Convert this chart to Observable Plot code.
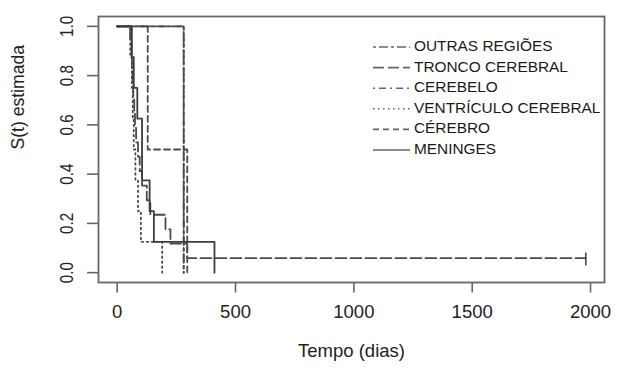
<!DOCTYPE html>
<html><head><meta charset="utf-8">
<script src="https://cdn.jsdelivr.net/npm/d3@7"></script>
<script src="https://cdn.jsdelivr.net/npm/@observablehq/plot@0.6"></script>
<style>body{margin:0;background:#fff} svg{display:block}</style>
</head><body><div id="chart"></div>
<script>
// Kaplan-Meier curves: time (days) and estimated S(t)
const groups = ["OUTRAS REGIÕES","TRONCO CEREBRAL","CEREBELO","VENTRÍCULO CEREBRAL","CÉREBRO","MENINGES"];
const outrasT   = [0, 281];
const outrasS   = [1, 0];
const troncoT   = [0, 55, 60, 62, 65, 68, 72, 75, 80, 88, 95, 105, 125, 140, 204, 225, 296, 1980];
const troncoS   = [1, 0.941, 0.882, 0.824, 0.765, 0.706, 0.647, 0.588, 0.529, 0.471, 0.412, 0.353, 0.294, 0.235, 0.176, 0.118, 0.059, 0.059];
const cerebeloT = [0, 281];
const cerebeloS = [1, 0];
const ventrT    = [0, 55, 62, 66, 70, 77, 88, 100, 190];
const ventrS    = [1, 0.875, 0.75, 0.625, 0.5, 0.375, 0.25, 0.125, 0];
const cerebroT  = [0, 129, 296];
const cerebroS  = [1, 0.5, 0];
const meningesT = [0, 62, 70, 85, 105, 137, 155, 411];
const meningesS = [1, 0.875, 0.75, 0.625, 0.375, 0.25, 0.125, 0];
const censorT = [1980];
const censorS = [0.059];
const xTicks = [0, 500, 1000, 1500, 2000];
const yTicks = [0, 0.2, 0.4, 0.6, 0.8, 1.0];
const xTitle = "Tempo (dias)";
const yTitle = "S(t) estimada";

const dashes = ["3,3,9,3", "11,4", "2,4,7,4", "1.5,3.5", "6,4", null];
const times = [outrasT, troncoT, cerebeloT, ventrT, cerebroT, meningesT];
const survs = [outrasS, troncoS, cerebeloS, ventrS, cerebroS, meningesS];
const series = groups.map((g, i) => ({
  name: g, dash: dashes[i],
  data: times[i].map((t, j) => ({t, s: survs[i][j]}))
}));
const censor = censorT.map((t, i) => ({t, s: censorS[i]}));

const lineColor = "#4a4a4a";

function legendMark(index, scales, values, dims) {
  const g = d3.create("svg:g").attr("text-anchor", "start");
  const x0 = dims.width - dims.marginRight - 231;
  const top = dims.marginTop + 30;
  const step = 20.6;
  series.forEach((s, i) => {
    const y = top + i * step;
    const ln = g.append("line")
      .attr("x1", x0).attr("x2", x0 + 37).attr("y1", y + 1).attr("y2", y + 1)
      .attr("stroke", "#666").attr("stroke-width", 1.6);
    if (s.dash) ln.attr("stroke-dasharray", s.dash);
    g.append("text")
      .attr("transform", `translate(${x0 + 41},${y}) scale(1.1,1)`)
      .attr("text-anchor", "start")
      .attr("dy", "0.36em").attr("font-size", 14).attr("fill", "#1a1a1a")
      .text(s.name);
  });
  return g.node();
}

const chart = Plot.plot({
  width: 622, height: 368,
  marginLeft: 98, marginRight: 18, marginTop: 16, marginBottom: 86,
  x: {domain: [-79, 2059]},
  y: {domain: [-0.04, 1.04]},
  style: {fontFamily: "'Liberation Sans', Arial, sans-serif", background: "#fff", color: "#222"},
  marks: [
    Plot.frame({stroke: "#666", strokeWidth: 1.8}),
    ...series.map((s, i) => Plot.line(s.data, {
      x: "t", y: "s", curve: "step-after", stroke: i === 5 ? "#3c3c3c" : lineColor,
      strokeWidth: 1.8, strokeDasharray: s.dash || undefined
    })),
    Plot.ruleX(censor, {x: "t", y1: "s", y2: "s", insetTop: -5, insetBottom: -8, stroke: lineColor, strokeWidth: 1.6}),
    Plot.axisX({ticks: xTicks, tickSize: 10.5, tickPadding: 12, tickFormat: d => String(d), fontSize: 18.5, label: null, stroke: "#666", strokeWidth: 1.6}),
    Plot.axisY({ticks: yTicks, tickSize: 11, tickPadding: 15, tickRotate: -90, tickFormat: d3.format(".1f"), fontSize: 18.5, label: null, stroke: "#666", strokeWidth: 1.6}),
    Plot.text([xTitle], {frameAnchor: "bottom", dy: 74, fontSize: 18.5, fill: "#222"}),
    Plot.text([yTitle], {frameAnchor: "left", dx: -80, rotate: -90, fontSize: 18.5, fill: "#222"}),
    legendMark
  ]
});
d3.select(chart).selectAll('g[aria-label="y-axis tick label"] text').each(function() {
  const t = this.getAttribute("transform") || "";
  this.setAttribute("transform", t + " scale(0.82,1)");
});
d3.select(chart).selectAll('g[aria-label="text"] text').filter(function(){ return this.textContent === yTitle; }).each(function() {
  const t = this.getAttribute("transform") || "";
  this.setAttribute("transform", t + " scale(0.95,1)");
});
document.getElementById("chart").appendChild(chart);
</script>
</body></html>
